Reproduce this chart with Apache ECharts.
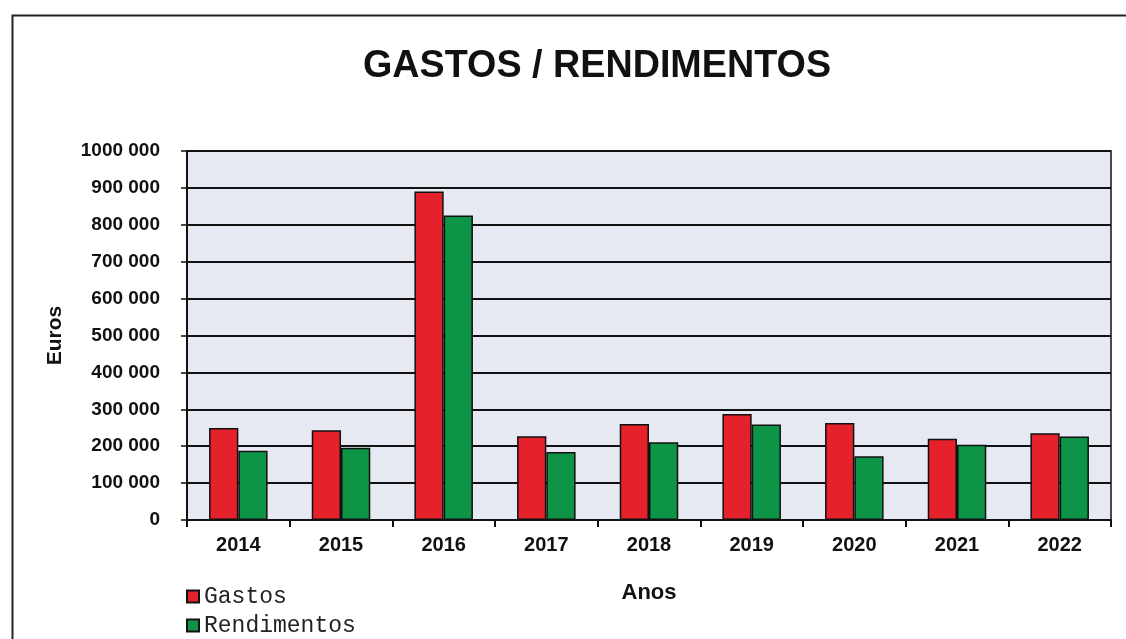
<!DOCTYPE html>
<html>
<head>
<meta charset="utf-8">
<script src="https://cdn.jsdelivr.net/npm/echarts@6/dist/echarts.min.js"></script>
<style>html,body{margin:0;padding:0;background:#fff}#c{width:1126px;height:639px}</style>
</head>
<body>
<div id="c"></div>
<script>
const years = ['2014','2015','2016','2017','2018','2019','2020','2021','2022'];
const gastos = [249000, 243000, 890000, 227000, 260000, 287000, 263000, 220000, 235000];
const rendimentos = [188000, 196000, 825000, 184000, 211000, 259000, 173000, 204000, 226000];
const yTicks = [0, 100000, 200000, 300000, 400000, 500000, 600000, 700000, 800000, 900000, 1000000];
const titleText = 'GASTOS / RENDIMENTOS';

const chart = echarts.init(document.getElementById('c'));
const fmt = v => { const s = String(v); return s.length > 3 ? s.slice(0, s.length - 3) + ' ' + s.slice(-3) : s; };
const SANS = 'Liberation Sans, Arial, sans-serif';
chart.setOption({
  animation: false,
  backgroundColor: '#fff',
  graphic: [
    {
      type: 'rect', left: 10, top: 13, z: -1,
      shape: { x: 0, y: 0, width: 1200, height: 700 },
      style: { fill: 'none', stroke: '#222', lineWidth: 2 }
    },
    {
      type: 'text', x: 597, y: 66, scaleX: 0.92, scaleY: 0.95,
      style: { text: titleText, x: 0, y: 0, align: 'center', verticalAlign: 'middle',
        fontFamily: SANS, fontWeight: 'bold', fontSize: 41, fill: '#111' }
    }
  ],
  legend: {
    orient: 'vertical', left: 186, top: 585, padding: 0, itemWidth: 12, itemHeight: 12, itemGap: 6,
    icon: 'rect',
    textStyle: { fontFamily: 'Liberation Mono, Courier New, monospace', fontSize: 23, color: '#222' },
    data: ['Gastos', 'Rendimentos']
  },
  grid: {
    left: 187, right: 15, top: 151, bottom: 119,
    show: true, backgroundColor: '#e6e9f1', borderColor: '#111', borderWidth: 1.5
  },
  xAxis: {
    type: 'category', data: years,
    name: 'Anos', nameLocation: 'middle', nameGap: 62,
    nameTextStyle: { fontFamily: SANS, fontWeight: 'bold', fontSize: 22, color: '#111' },
    axisLine: { lineStyle: { color: '#111', width: 2 } },
    axisTick: { show: true, length: 7, lineStyle: { color: '#111', width: 2 } },
    axisLabel: { fontFamily: SANS, fontWeight: 'bold', fontSize: 20, color: '#111', margin: 15 }
  },
  yAxis: {
    type: 'value', min: yTicks[0], max: yTicks[yTicks.length - 1], interval: 100000,
    name: 'Euros', nameLocation: 'middle', nameRotate: 90, nameGap: 121,
    nameTextStyle: { fontFamily: SANS, fontWeight: 'bold', fontSize: 21, color: '#111' },
    axisLine: { show: true, lineStyle: { color: '#111', width: 2 } },
    axisTick: { show: true, length: 6, lineStyle: { color: '#111', width: 1.5 } },
    axisLabel: { fontFamily: SANS, fontWeight: 'bold', fontSize: 19, color: '#111', margin: 27, formatter: fmt },
    splitLine: { show: true, lineStyle: { color: '#111', width: 2 } }
  },
  series: [
    { name: 'Gastos', type: 'bar', data: gastos, barGap: '0%', barCategoryGap: '43%',
      itemStyle: { color: '#e5222b', borderColor: '#111', borderWidth: 1.5 } },
    { name: 'Rendimentos', type: 'bar', data: rendimentos, barGap: '0%', barCategoryGap: '43%',
      itemStyle: { color: '#0e9447', borderColor: '#111', borderWidth: 1.5 } }
  ]
});
</script>
</body>
</html>
